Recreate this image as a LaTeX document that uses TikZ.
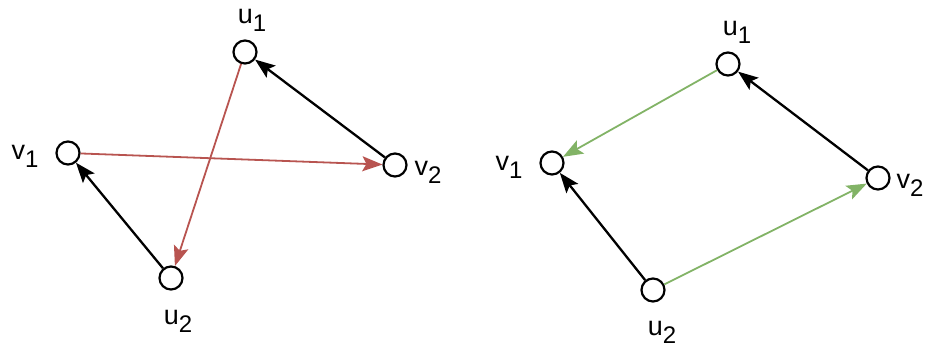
\documentclass[tikz,border=0pt]{standalone}
\usepackage{fontspec}
\setmainfont{Liberation Sans}
\usetikzlibrary{arrows.meta}
\definecolor{redE}{HTML}{B85450}
\definecolor{greenE}{HTML}{82B366}
\newcommand{\lbl}[2]{#1\raisebox{-0.3em}{\fontsize{24}{24}\selectfont #2}}
\tikzset{
  vert/.style={circle,draw=black,line width=2.2pt,fill=white,minimum size=23pt,inner sep=0pt},
  lab/.style={font=\fontsize{27}{29}\selectfont,inner sep=0pt},
  edge/.style={line width=2.3pt,-{Stealth[length=20pt,width=15pt,inset=4pt]}},
  blk/.style={edge,draw=black},
  red/.style={edge,draw=redE,line width=1.8pt,-{Stealth[length=20pt,width=15pt,inset=4pt,fill=redE]}},
  grn/.style={edge,draw=greenE,line width=1.8pt,-{Stealth[length=20pt,width=15pt,inset=4pt,fill=greenE]}}
}
\begin{document}
\begin{tikzpicture}[x=1pt,y=-1pt]
\useasboundingbox (0,0) rectangle (925,352);
% left graph
\node[vert] (lu1) at (245,52) {};
\node[vert] (lv1) at (68,153) {};
\node[vert] (lv2) at (395,165) {};
\node[vert] (lu2) at (171,278) {};
\node[lab] (tlu1) at (252,20) {\lbl{u}{1}};
\node[lab] (tlv1) at (25,156) {\lbl{v}{1}};
\node[lab] (tlv2) at (428,172) {\lbl{v}{2}};
\node[lab] (tlu2) at (178,321) {\lbl{u}{2}};
\draw[blk] (lv2) -- (lu1);
\draw[blk] (lu2) -- (lv1);
\draw[red] (lu1) -- (lu2);
\draw[red] (lv1) -- (lv2);
% right graph
\node[vert] (ru1) at (728,64) {};
\node[vert] (rv1) at (552,163) {};
\node[vert] (rv2) at (878,178) {};
\node[vert] (ru2) at (653,290) {};
\node[lab] (tru1) at (737,32) {\lbl{u}{1}};
\node[lab] (trv1) at (509,167) {\lbl{v}{1}};
\node[lab] (trv2) at (910,185) {\lbl{v}{2}};
\node[lab] (tru2) at (662,332) {\lbl{u}{2}};
\draw[blk] (rv2) -- (ru1);
\draw[blk] (ru2) -- (rv1);
\draw[grn] (ru1) -- (rv1);
\draw[grn] (ru2) -- (rv2);
\end{tikzpicture}
\end{document}
